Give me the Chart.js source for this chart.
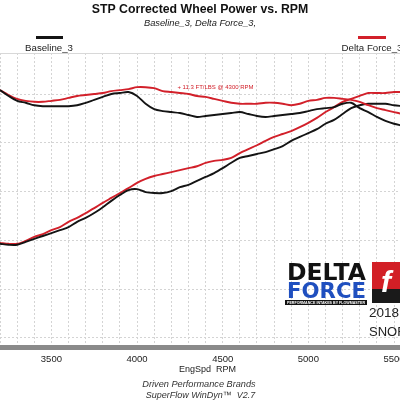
<!DOCTYPE html>
<html>
<head>
<meta charset="utf-8">
<script src="https://cdn.jsdelivr.net/npm/chart.js@4.4.1/dist/chart.umd.min.js"></script>
<style>
  html, body { margin: 0; padding: 0; background: #fff; overflow: hidden; }
  #wrap { position: absolute; left: -40px; top: 0; width: 480px; height: 400px; }
</style>
</head>
<body>
<div id="wrap"><canvas id="dyno" width="480" height="400"></canvas></div>
<script>
// engine speed samples (rpm)
const rpm = [
  3200, 3250, 3300, 3350, 3400, 3450, 3500, 3550, 3600, 3650, 3700, 3750,
  3800, 3850, 3900, 3950, 4000, 4050, 4100, 4150, 4200, 4250, 4300, 4350,
  4400, 4450, 4500, 4550, 4600, 4650, 4700, 4750, 4800, 4850, 4900, 4950,
  5000, 5050, 5100, 5150, 5200, 5250, 5300, 5350, 5400, 5450, 5500, 5550
];

// torque curves (upper pair)
const baselineTorque = [
  150.8, 149.6, 148.6, 148.2, 147.7, 147.5, 147.5, 147.5, 147.5, 147.7, 148.2, 148.8,
  149.4, 150.0, 150.2, 150.4, 149.6, 148.0, 146.9, 146.5, 146.3, 146.1, 145.7, 145.3,
  145.5, 145.7, 145.9, 146.1, 146.3, 145.9, 145.5, 145.3, 145.5, 145.7, 145.9, 146.1,
  146.5, 146.9, 147.1, 147.3, 148.0, 148.2, 147.1, 146.3, 145.3, 144.5, 143.9, 143.5
];
const deltaTorque = [
  150.8, 149.8, 149.0, 148.6, 148.4, 148.4, 148.6, 148.8, 149.2, 149.6, 149.8, 150.0,
  150.2, 150.6, 150.8, 151.0, 151.4, 151.4, 151.2, 150.6, 150.4, 150.2, 150.0, 149.6,
  149.4, 149.0, 148.6, 148.2, 148.0, 148.0, 148.0, 148.2, 148.2, 148.0, 147.7, 148.0,
  148.6, 148.8, 149.2, 149.2, 149.0, 148.8, 148.4, 147.7, 147.1, 146.7, 146.3, 145.9
];

// power curves (rising pair)
const baselinePower = [
  119.3, 119.1, 119.1, 119.7, 120.3, 120.9, 121.5, 122.1, 122.7, 123.8, 124.6, 125.6,
  126.8, 128.1, 129.3, 130.3, 130.5, 129.9, 129.7, 129.7, 130.1, 130.9, 131.4, 132.2,
  133.0, 133.8, 134.8, 135.9, 136.9, 137.3, 137.7, 138.1, 138.7, 139.3, 140.4, 141.2,
  142.0, 142.8, 143.9, 144.7, 145.9, 147.1, 147.7, 148.0, 148.0, 148.0, 147.7, 147.5
];
const deltaPower = [
  119.5, 119.3, 119.3, 119.9, 120.7, 121.3, 122.1, 122.7, 123.8, 124.6, 125.6, 126.6,
  127.7, 128.7, 129.7, 130.7, 131.8, 132.6, 133.2, 133.6, 134.0, 134.4, 134.8, 135.2,
  135.9, 136.3, 136.5, 136.9, 137.9, 138.7, 139.5, 140.4, 141.2, 141.8, 142.4, 143.2,
  144.1, 145.1, 146.3, 147.3, 148.4, 149.0, 149.6, 150.2, 150.2, 150.2, 150.4, 150.4
];

const rpmLabels = [3500, 4000, 4500, 5000, 5500];
const yGrid = [100, 110, 120, 130, 140, 150];

const FONT = "'Liberation Sans', Arial, sans-serif";
const BLACK = '#141414';
const RED = '#d2202a';
const OX = 40; // canvas is shifted 40px left of the window

function toPoints(values) {
  return rpm.map((r, i) => ({ x: r, y: values[i] }));
}

function lineSet(label, values, color) {
  return {
    label: label,
    data: toPoints(values),
    borderColor: color,
    borderWidth: 1.9,
    pointRadius: 0,
    tension: 0.3,
    fill: false
  };
}

// fits text into a given box width by stretching it horizontally
function stretchText(ctx, str, x, y, width, font, color) {
  ctx.save();
  ctx.font = font;
  const w = ctx.measureText(str).width;
  ctx.translate(x, y);
  ctx.scale(width / w, 1);
  ctx.fillStyle = color;
  ctx.textAlign = 'left';
  ctx.textBaseline = 'middle';
  ctx.fillText(str, 0, 0);
  ctx.restore();
}

function text(ctx, str, x, y, font, color, align) {
  ctx.font = font;
  ctx.fillStyle = color;
  ctx.textAlign = align || 'center';
  ctx.textBaseline = 'middle';
  ctx.fillText(str, x, y);
}

const decor = {
  id: 'decor',
  beforeDatasetsDraw(chart) {
    // solid frame line along the top of the plot
    const { ctx, chartArea } = chart;
    ctx.save();
    ctx.strokeStyle = '#d8d8d8';
    ctx.lineWidth = 1;
    ctx.beginPath();
    ctx.moveTo(chartArea.left, Math.round(chartArea.top) + 0.5);
    ctx.lineTo(chartArea.right, Math.round(chartArea.top) + 0.5);
    ctx.stroke();
    ctx.restore();
  },
  afterDraw(chart) {
    const { ctx } = chart;
    ctx.save();

    // legend
    const sets = chart.data.datasets;
    ctx.fillStyle = sets[0].borderColor;
    ctx.fillRect(OX + 36, 36, 27, 3);
    ctx.fillStyle = sets[1].borderColor;
    ctx.fillRect(OX + 358, 36, 28, 3);
    text(ctx, sets[0].label, OX + 49, 48, `9.7px ${FONT}`, '#222');
    text(ctx, sets[1].label, OX + 372, 48, `9.7px ${FONT}`, '#222');

    // gain note
    text(ctx, '+ 11.3 FT/LBS @ 4300 RPM', OX + 215.5, 87, `6px ${FONT}`, RED);

    // axis caption and footer
    text(ctx, 'EngSpd  RPM', OX + 207.5, 370, `9px ${FONT}`, '#222');
    text(ctx, 'Driven Performance Brands', OX + 199, 384, `italic 9.2px ${FONT}`, '#333');
    text(ctx, 'SuperFlow WinDyn\u2122  V2.7', OX + 200.5, 395, `italic 9px ${FONT}`, '#333');

    // logo block
    stretchText(ctx, 'DELTA', OX + 287, 274, 79, `bold 23px 'DejaVu Sans'`, '#111');
    stretchText(ctx, 'FORCE', OX + 287, 292, 79, `bold 22px 'DejaVu Sans'`, '#1f4fbf');
    ctx.fillStyle = '#111';
    ctx.fillRect(OX + 285, 300, 82, 5);
    stretchText(ctx, 'PERFORMANCE INTAKES BY FLOWMASTER', OX + 287, 302.6, 78, `bold 4px ${FONT}`, '#fff');

    ctx.fillStyle = '#d21f26';
    ctx.fillRect(OX + 372, 262, 30, 27);
    ctx.fillStyle = '#1a1a1a';
    ctx.fillRect(OX + 372, 289, 30, 14);
    text(ctx, 'f', OX + 386, 284, `italic bold 30px ${FONT}`, '#fff');

    text(ctx, '2018', OX + 369, 313, `13.5px ${FONT}`, '#222', 'left');
    text(ctx, 'SNOR', OX + 369, 332, `13px ${FONT}`, '#222', 'left');

    ctx.restore();
  }
};

const gridStyle = {
  color: '#d4d4d4',
  lineWidth: 1,
  drawTicks: false
};

new Chart(document.getElementById('dyno'), {
  type: 'line',
  data: {
    datasets: [
      lineSet('Baseline_3', baselineTorque, BLACK),
      lineSet('Delta Force_3', deltaTorque, RED),
      lineSet('Baseline_3', baselinePower, BLACK),
      lineSet('Delta Force_3', deltaPower, RED)
    ]
  },
  options: {
    responsive: false,
    animation: false,
    layout: { padding: { left: OX, right: OX, top: 0, bottom: 0 } },
    plugins: {
      legend: { display: false },
      tooltip: { enabled: false },
      title: {
        display: true,
        text: 'STP Corrected Wheel Power vs. RPM',
        color: '#111',
        font: { family: FONT, size: 12.3, weight: 'bold' },
        padding: { top: 2, bottom: 0 }
      },
      subtitle: {
        display: true,
        text: 'Baseline_3, Delta Force_3,',
        color: '#222',
        font: { family: FONT, size: 9.3, style: 'italic' },
        padding: { top: 1, bottom: 24.1 }
      }
    },
    scales: {
      x: {
        type: 'linear',
        min: 3200,
        max: 5535,
        afterBuildTicks: (scale) => {
          const ticks = [];
          for (let v = 3200; v <= 5500; v += 100) ticks.push({ value: v });
          scale.ticks = ticks;
        },
        afterFit: (scale) => { scale.height = 52.5; },
        grid: gridStyle,
        border: { display: true, color: '#8a8a8a', width: 5, dash: [2, 2] },
        ticks: {
          autoSkip: false,
          maxRotation: 0,
          padding: 6,
          color: '#222',
          font: { family: FONT, size: 9.5 },
          callback: (v) => rpmLabels.includes(v) ? String(v) : ''
        }
      },
      y: {
        min: 98.05,
        max: 158.4,
        afterBuildTicks: (scale) => {
          scale.ticks = yGrid.map(v => ({ value: v }));
        },
        afterFit: (scale) => { scale.width = 0; },
        grid: gridStyle,
        border: { display: false, dash: [2, 2] },
        ticks: { display: false }
      }
    }
  },
  plugins: [decor]
});
</script>
</body>
</html>
